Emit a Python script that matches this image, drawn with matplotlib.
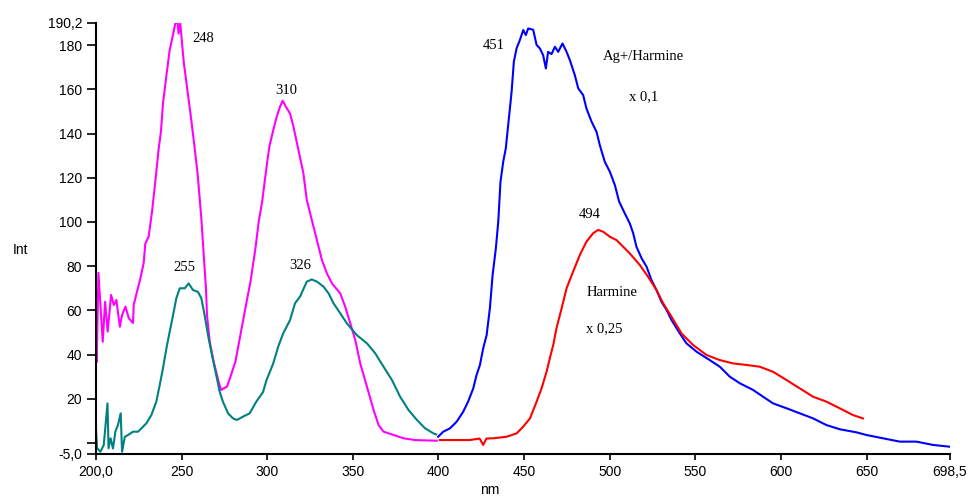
import matplotlib
matplotlib.use("Agg")
import matplotlib.pyplot as plt

# Data (wavelength in nm, intensity)
magenta_nm = [200.0, 200.4, 201.4, 203.9, 205.3, 206.8, 208.8, 210.4, 211.9, 213.9, 215.2, 217.2,
              219.1, 221.6, 222.0, 223.9, 225.9, 227.8, 228.8, 230.7, 232.7, 234.6, 236.6, 237.9,
              239.1, 241.0, 243.0, 244.9, 246.3, 247.6, 248.2, 249.2, 251.2, 253.5, 255.5, 257.4,
              259.4, 261.5, 262.9, 264.2, 264.8, 266.4, 268.7, 271.6, 273.0, 276.5, 278.5, 281.4,
              284.3, 287.2, 290.2, 293.1, 295.0, 297.0, 299.6, 301.2, 303.5, 305.5, 307.4, 309.0,
              311.0, 313.3, 315.3, 318.2, 321.1, 323.1, 326.0, 329.0, 331.9, 334.8, 337.8, 342.6,
              345.5, 348.5, 351.4, 354.3, 358.2, 362.1, 365.0, 367.9, 373.8, 379.6, 386.4, 399.0]
magenta_int = [47.5, 36.6, 77.0, 45.8, 63.9, 50.4, 67.0, 62.4, 64.7, 52.6, 57.9, 61.7,
               56.5, 54.3, 62.4, 68.4, 74.5, 81.3, 90.3, 93.3, 104.6, 118.2, 133.3, 140.8,
               153.7, 165.7, 177.8, 184.6, 189.9, 190.6, 185.3, 190.0, 172.5, 158.9, 146.9, 134.8,
               121.2, 101.6, 85.0, 70.0, 57.9, 45.8, 36.8, 27.7, 24.0, 25.5, 30.0, 36.8,
               48.8, 60.9, 73.0, 88.1, 100.1, 109.2, 125.0, 134.0, 141.6, 147.6, 152.1, 154.9,
               152.0, 149.1, 143.1, 132.6, 122.0, 109.9, 100.9, 91.8, 82.8, 76.8, 72.2, 67.7,
               61.7, 54.1, 46.6, 36.0, 25.5, 14.9, 8.1, 5.1, 3.6, 2.1, 1.3, 1.0]

teal_nm = [200.0, 200.6, 202.5, 204.5, 206.7, 207.3, 208.5, 209.9, 211.3, 212.8, 214.4, 215.2,
           216.8, 218.7, 221.6, 224.5, 226.5, 229.4, 232.3, 235.2, 237.2, 239.1, 241.1, 243.0,
           245.0, 246.9, 248.9, 251.8, 254.1, 256.6, 259.5, 261.5, 263.4, 265.4, 267.7, 270.2,
           272.2, 274.1, 277.1, 280.0, 282.3, 285.8, 289.7, 293.6, 297.5, 299.6, 303.5, 306.4,
           309.3, 313.3, 316.2, 319.1, 323.1, 326.0, 329.0, 332.8, 335.8, 338.7, 342.6, 346.5,
           352.3, 358.2, 363.0, 367.9, 372.8, 377.6, 382.5, 387.4, 392.2, 397.1, 398.6]
teal_int = [5.9, -2.3, -4.0, -1.0, 17.9, -2.4, 2.1, -2.5, 5.1, 8.1, 13.4, -4.0,
            2.8, 3.6, 5.1, 5.1, 6.6, 8.9, 12.6, 18.7, 26.2, 33.8, 42.8, 50.3,
            57.9, 65.5, 70.0, 70.0, 72.2, 69.2, 68.4, 65.5, 57.9, 48.8, 39.8, 30.7,
            23.2, 18.7, 13.4, 11.1, 10.4, 11.9, 13.4, 18.7, 23.0, 28.5, 36.0, 43.6,
            49.6, 55.6, 63.2, 66.2, 73.0, 74.0, 73.0, 70.8, 67.7, 63.2, 58.7, 54.1,
            48.8, 45.1, 40.6, 34.5, 28.5, 20.9, 14.9, 10.4, 6.6, 4.3, 3.9]

blue_nm = [399.8, 402.8, 406.7, 410.6, 414.4, 417.3, 420.3, 422.2, 424.2, 426.1, 428.1, 430.0,
           431.6, 433.5, 434.9, 436.2, 437.8, 439.3, 440.7, 442.7, 444.0, 445.6, 447.5, 449.5,
           451.0, 452.4, 455.3, 457.3, 459.2, 461.1, 462.7, 464.0, 466.0, 468.0, 469.9, 472.4,
           474.8, 476.7, 479.6, 481.6, 484.5, 486.4, 489.4, 492.3, 494.2, 497.1, 500.1, 503.0,
           505.5, 508.8, 511.7, 513.7, 515.6, 518.6, 521.5, 524.4, 527.3, 530.2, 533.2, 536.1,
           540.9, 544.8, 550.7, 558.4, 564.3, 570.1, 576.0, 583.7, 589.6, 595.4, 603.2, 611.0,
           618.8, 626.5, 634.3, 644.1, 649.9, 659.6, 669.4, 679.1, 688.8, 698.5]
blue_int = [2.8, 5.1, 6.6, 9.6, 14.1, 18.7, 24.7, 30.7, 35.3, 42.8, 48.8, 60.9,
            76.0, 88.1, 100.1, 118.2, 127.3, 133.3, 143.9, 159.0, 172.5, 178.6, 182.3, 186.9,
            184.6, 187.6, 187.0, 180.1, 178.6, 175.5, 169.5, 177.0, 176.0, 179.3, 177.0, 180.8,
            177.0, 173.3, 166.5, 160.5, 157.4, 151.4, 145.4, 140.8, 134.8, 127.3, 122.7, 116.7,
            109.2, 103.9, 99.4, 94.9, 88.8, 83.6, 79.8, 73.7, 69.2, 63.9, 60.2, 55.6,
            49.6, 45.1, 41.3, 37.5, 34.5, 30.0, 27.0, 24.0, 20.9, 17.9, 15.7, 13.4,
            11.1, 8.1, 6.2, 4.8, 3.6, 2.1, 0.6, 0.6, -0.9, -1.7]

red_nm = [400.8, 408.6, 418.3, 424.0, 426.1, 428.0, 431.9, 439.7, 445.6, 449.5, 453.4, 457.3,
          460.2, 463.1, 465.0, 467.0, 468.9, 471.9, 474.8, 478.6, 482.5, 486.4, 490.3, 493.2,
          496.2, 500.1, 504.0, 505.9, 511.7, 517.6, 522.4, 527.3, 531.2, 536.1, 541.9, 548.7,
          556.5, 564.3, 572.0, 579.9, 587.6, 595.4, 603.2, 611.0, 618.8, 626.5, 634.3, 642.1,
          647.9]
red_int = [1.3, 1.3, 1.3, 2.0, -0.9, 2.0, 2.1, 2.8, 4.3, 7.4, 11.1, 18.7,
           24.7, 32.2, 38.3, 44.3, 51.9, 60.9, 70.0, 77.5, 85.0, 91.1, 94.9, 96.4,
           95.6, 93.3, 91.8, 90.3, 85.8, 80.5, 75.2, 69.2, 63.2, 57.1, 49.6, 44.3,
           39.8, 37.5, 36.0, 35.3, 34.5, 32.2, 28.5, 24.7, 20.9, 18.7, 15.7, 12.6,
           11.1]

# Axis ticks
x_ticks = [200, 250, 300, 350, 400, 450, 500, 550, 600, 650, 698.5]
x_tick_labels = ["200,0", "250", "300", "350", "400", "450", "500", "550", "600", "650", "698,5"]
y_ticks = [-5, 0, 20, 40, 60, 80, 100, 120, 140, 160, 180, 190.2]
y_tick_labels = ["-5,0", "", "20", "40", "60", "80", "100", "120", "140", "160", "180", "190,2"]

# Figure
fig = plt.figure(figsize=(9.7, 4.99), dpi=100)
ax = fig.add_axes([0.099, 0.0902, 0.880, 0.8643])

ax.plot(magenta_nm, magenta_int, color="#FF00FF", lw=1.5)
ax.plot(teal_nm, teal_int, color="#008080", lw=1.5)
ax.plot(blue_nm, blue_int, color="#0000FF", lw=1.5)
ax.plot(red_nm, red_int, color="#FF0000", lw=1.5)

ax.set_xlim(200, 698.5)
ax.set_ylim(-5, 190.2)

ax.set_xticks(x_ticks)
ax.set_xticklabels(x_tick_labels, fontfamily="Liberation Sans", fontsize=10)
ax.set_yticks(y_ticks)
ax.set_yticklabels(y_tick_labels, fontfamily="Liberation Sans", fontsize=10)
ax.tick_params(axis="x", length=4, width=1.2, pad=4)
ax.tick_params(axis="y", length=6.5, width=1.2, pad=3.5)

for side in ["top", "right"]:
    ax.spines[side].set_visible(False)
for side in ["left", "bottom"]:
    ax.spines[side].set_linewidth(1.5)

# Axis titles
fig.text(0.021, 0.499, "Int", fontfamily="Liberation Sans", fontsize=10, ha="center", va="center")
fig.text(0.505, 0.018, "nm", fontfamily="Liberation Sans", fontsize=10, ha="center", va="center")

# Peak annotations
serif = dict(fontfamily="Liberation Serif", fontsize=10.5, va="center", ha="left")
ax.text(256, 183.2, "248", **serif)
ax.text(245, 79.6, "255", **serif)
ax.text(304.5, 159.7, "310", **serif)
ax.text(312.7, 80.5, "326", **serif)
ax.text(426, 180, "451", **serif)
ax.text(482, 103.6, "494", **serif)
ax.text(496, 175.1, "Ag+/Harmine", **serif)
ax.text(511, 156.5, "x 0,1", **serif)
ax.text(486.6, 68.3, "Harmine", **serif)
ax.text(486, 51.6, "x 0,25", **serif)

plt.savefig("out.png", dpi=100)
